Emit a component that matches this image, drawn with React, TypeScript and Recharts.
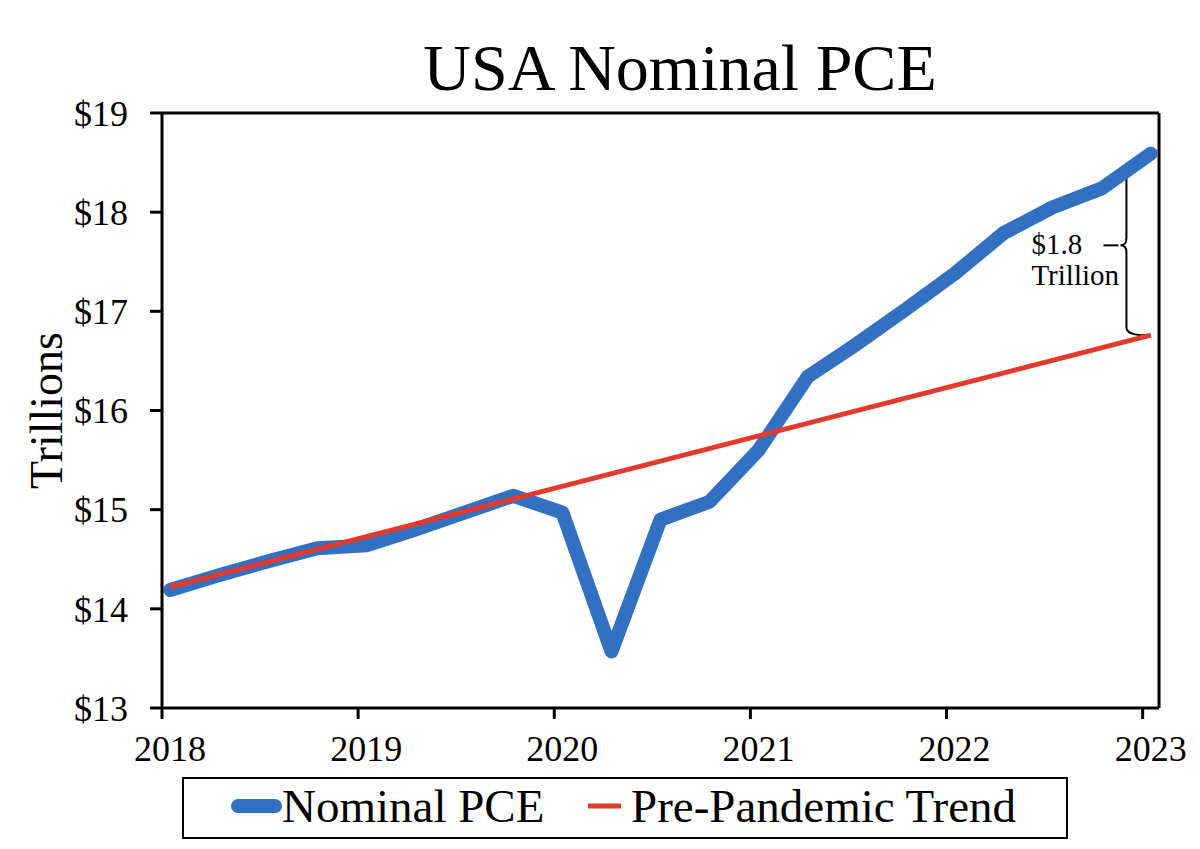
import React from 'react'
import { LineChart, Line, XAxis, YAxis, ReferenceLine, ReferenceArea } from 'recharts'

const quarters = [
  '2018Q1', '2018Q2', '2018Q3', '2018Q4',
  '2019Q1', '2019Q2', '2019Q3', '2019Q4',
  '2020Q1', '2020Q2', '2020Q3', '2020Q4',
  '2021Q1', '2021Q2', '2021Q3', '2021Q4',
  '2022Q1', '2022Q2', '2022Q3', '2022Q4',
  '2023Q1',
]

// trillions of dollars
const nominalPce = [
  14.19, 14.34, 14.48, 14.61,
  14.64, 14.8, 14.97, 15.14,
  14.97, 13.57, 14.9, 15.08,
  15.6, 16.34, 16.67, 17.02,
  17.38, 17.79, 18.05, 18.24,
  18.59,
]

// straight trend: only the end points are needed
const trendStart = 14.22
const trendEnd = 16.76

const yearTicks = [2018, 2019, 2020, 2021, 2022, 2023]
const dollarTicks = [13, 14, 15, 16, 17, 18, 19]

const BLUE = '#3271c2'
const RED = '#e4392b'
const FONT = '"Liberation Serif", "Times New Roman", serif'

// quarter -> decimal year, points sit mid-month of the quarter's first month
const toYear = (q: string) => {
  const y = Number(q.slice(0, 4))
  const n = Number(q.slice(5))
  return y + (n - 1) / 4 + 1 / 24
}

const data = quarters.map((q, i) => ({
  x: toYear(q),
  pce: nominalPce[i],
  trend: i === 0 ? trendStart : i === quarters.length - 1 ? trendEnd : null,
}))

const X_MAX = 2023 + 1 / 12

function Brace(props: any) {
  const { x, y, width, height } = props
  const vx = x + 23
  const tip = x + 17
  const right = x + width
  const mid = y + height / 2 - 2
  const b = y + height
  const d = [
    `M${right},${y + 1}`,
    `Q${vx},${y} ${vx},${y + 9}`,
    `L${vx},${mid - 7}`,
    `Q${vx},${mid} ${tip},${mid}`,
    `Q${vx},${mid} ${vx},${mid + 7}`,
    `L${vx},${b - 9}`,
    `Q${vx},${b} ${right},${b - 1}`,
  ].join(' ')
  return (
    <g>
      <path d={d} fill="none" stroke="#000" strokeWidth={2} />
      <line x1={x} y1={mid} x2={tip - 2} y2={mid} stroke="#000" strokeWidth={2} />
      <text x={x - 72} y={mid + 9} fontSize={29} fontFamily={FONT} fill="#000">
        $1.8
      </text>
      <text x={x - 72} y={mid + 40} fontSize={29} fontFamily={FONT} fill="#000">
        Trillion
      </text>
    </g>
  )
}

export default function App() {
  return (
    <div style={{ position: 'absolute', left: 0, top: 0, width: 1200, height: 849, background: '#fff' }}>
      <LineChart
        width={1200}
        height={849}
        data={data}
        margin={{ top: 113, right: 41, bottom: 0, left: 0 }}
      >
        <XAxis
          dataKey="x"
          type="number"
          domain={[2018, X_MAX]}
          ticks={yearTicks}
          interval={0}
          allowDataOverflow
          tickFormatter={(v) => String(Math.round(v))}
          axisLine={{ stroke: '#000', strokeWidth: 3 }}
          tickLine={{ stroke: '#000', strokeWidth: 3 }}
          tickSize={11}
          tickMargin={16}
          tick={{ fontSize: 36, fill: '#000', fontFamily: FONT, dx: 8 }}
          height={141}
        />
        <YAxis
          type="number"
          domain={[13, 19]}
          ticks={dollarTicks}
          interval={0}
          width={162}
          tickFormatter={(v) => `$${v}`}
          axisLine={{ stroke: '#000', strokeWidth: 3 }}
          tickLine={{ stroke: '#000', strokeWidth: 3 }}
          tickSize={12}
          tickMargin={22}
          tick={{ fontSize: 36, fill: '#000', fontFamily: FONT }}
          label={{
            value: 'Trillions',
            angle: -90,
            position: 'center',
            dx: -35,
            style: { fontSize: 46, fill: '#000', fontFamily: FONT },
          }}
        />
        <ReferenceLine y={19} stroke="#000" strokeWidth={3} />
        <ReferenceLine x={X_MAX} stroke="#000" strokeWidth={3} />
        <Line
          dataKey="pce"
          type="linear"
          stroke={BLUE}
          strokeWidth={14}
          strokeLinecap="round"
          strokeLinejoin="round"
          dot={false}
          isAnimationActive={false}
        />
        <Line
          dataKey="trend"
          type="linear"
          stroke={RED}
          strokeWidth={5}
          connectNulls
          dot={false}
          isAnimationActive={false}
        />
        <ReferenceArea
          x1={2022.8}
          x2={2023.04}
          y1={trendEnd - 0.01}
          y2={18.54}
          shape={Brace}
        />
      </LineChart>
      <svg
        width={1200}
        height={849}
        style={{ position: 'absolute', left: 0, top: 0, pointerEvents: 'none' }}
      >
        <text x={680} y={90} textAnchor="middle" fontSize={66} fontFamily={FONT} fill="#000">
          USA Nominal PCE
        </text>
        <rect x={183} y={778} width={884} height={60} fill="none" stroke="#000" strokeWidth={2} />
        <line x1={238} y1={806} x2={275} y2={806} stroke={BLUE} strokeWidth={14} strokeLinecap="round" />
        <text x={282} y={822} fontSize={47} fontFamily={FONT} fill="#000">
          Nominal PCE
        </text>
        <line x1={588} y1={806} x2={621} y2={806} stroke={RED} strokeWidth={5} />
        <text x={631} y={822} fontSize={47} fontFamily={FONT} fill="#000">
          Pre-Pandemic Trend
        </text>
      </svg>
    </div>
  )
}
